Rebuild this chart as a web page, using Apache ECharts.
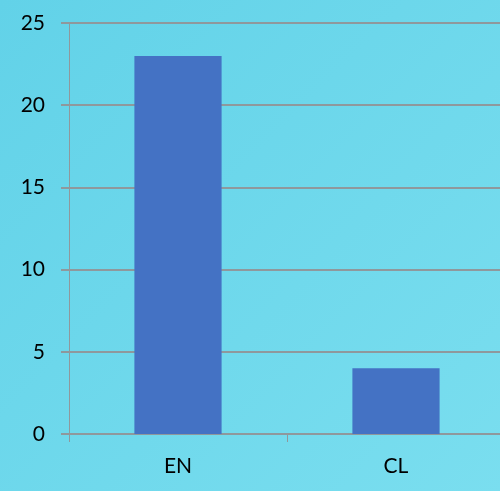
<!DOCTYPE html>
<html><head><meta charset="utf-8">
<script src="https://cdn.jsdelivr.net/npm/echarts@6/dist/echarts.min.js"></script>
<style>html,body{margin:0;padding:0;overflow:hidden;width:500px;height:491px;}#c{width:506px;height:491px;}</style>
</head><body><div id="c"></div>
<script>
const categories = ['EN', 'CL'];
const values = [23, 4];
const yTicks = { min: 0, max: 25, interval: 5 };

const chart = echarts.init(document.getElementById('c'), null, { renderer: 'canvas' });
chart.setOption({
  animation: false,
  backgroundColor: {
    type: 'linear', x: 0, y: 0, x2: 1, y2: 1,
    colorStops: [{ offset: 0, color: '#62D2E8' }, { offset: 1, color: '#7ADEEF' }]
  },
  grid: { left: 69, top: 23, bottom: 57, right: 1, containLabel: false },
  xAxis: {
    type: 'category', data: categories,
    axisLine: { show: true, lineStyle: { color: '#8f989c', width: 2 } },
    axisTick: { show: true, length: 8, lineStyle: { color: '#8f989c', width: 1 } },
    axisLabel: { color: '#000', fontSize: 21, fontFamily: 'Lato, "Open Sans", sans-serif', margin: 22 }
  },
  yAxis: {
    type: 'value', min: yTicks.min, max: yTicks.max, interval: yTicks.interval,
    axisLine: { show: true, lineStyle: { color: '#8f989c', width: 1 } },
    axisTick: { show: true, length: 8, lineStyle: { color: '#8f989c', width: 2 } },
    splitLine: { show: true, lineStyle: { color: '#8f989c', width: 2 } },
    axisLabel: { color: '#000', fontSize: 21, fontFamily: 'Lato, "Open Sans", sans-serif', margin: 24 }
  },
  series: [{
    type: 'bar', data: values, barWidth: '40%',
    itemStyle: { color: '#4472C4' }
  }]
});
</script></body></html>
